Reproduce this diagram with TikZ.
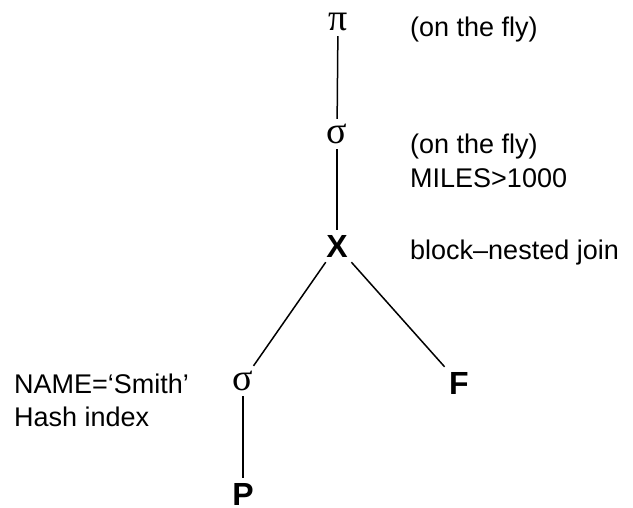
\documentclass[tikz,border=0pt]{standalone}
\usepackage{fontspec}
\setmainfont{Liberation Sans}
\newfontfamily\greekfont{Liberation Serif}
\usepackage{tikz}
\usetikzlibrary{calc, positioning}

\begin{document}
\begin{tikzpicture}[x=1pt, y=-1pt,
    op/.style={inner sep=5pt, font=\greekfont\fontsize{38}{38}\selectfont},
    rel/.style={inner sep=5pt, font=\fontsize{32}{32}\selectfont\bfseries},
    note/.style={inner sep=0pt, align=left, font=\fontsize{27}{34}\selectfont},
    edge/.style={line width=1.5pt}]

    % =================================================================
    % 1. KHUNG HINH
    % =================================================================
    \useasboundingbox (0,0) rectangle (633,508);

    % =================================================================
    % 2. CAC NUT CUA CAY TRUY VAN
    % =================================================================
    \node[op] (Proj) at (338,22) {π};
    \node[op] (SelMiles) at (337,134) {σ};
    \node[rel] (Join) at (337,246) {X};
    \node[op] (SelName) at (243,381) {σ};
    \node[rel] (Flight) at (459,383) {F};
    \node[rel, inner sep=1pt] (Pilot) at (243,494) {P};

    % =================================================================
    % 3. CAC CANH NOI
    % =================================================================
    \draw[edge] (Proj) -- (SelMiles);
    \draw[edge] (SelMiles) -- (Join);
    \draw[edge] (Join) -- (SelName);
    \draw[edge] (Join) -- (Flight);
    \draw[edge, shorten >=4pt] (SelName) -- (Pilot);

    % =================================================================
    % 4. GHI CHU
    % =================================================================
    \node[note, anchor=base west] (NoteProj) at (410,37) {(on the fly)};
    \node[note, anchor=base west] (NoteMiles) at (410,188) {(on the fly)\\MILES>1000};
    \node[note, anchor=base west] (NoteJoin) at (410,260) {block--nested join};
    \node[note, anchor=base west] (NoteName) at (14,427) {NAME=‘Smith’\\Hash index};

\end{tikzpicture}
\end{document}
